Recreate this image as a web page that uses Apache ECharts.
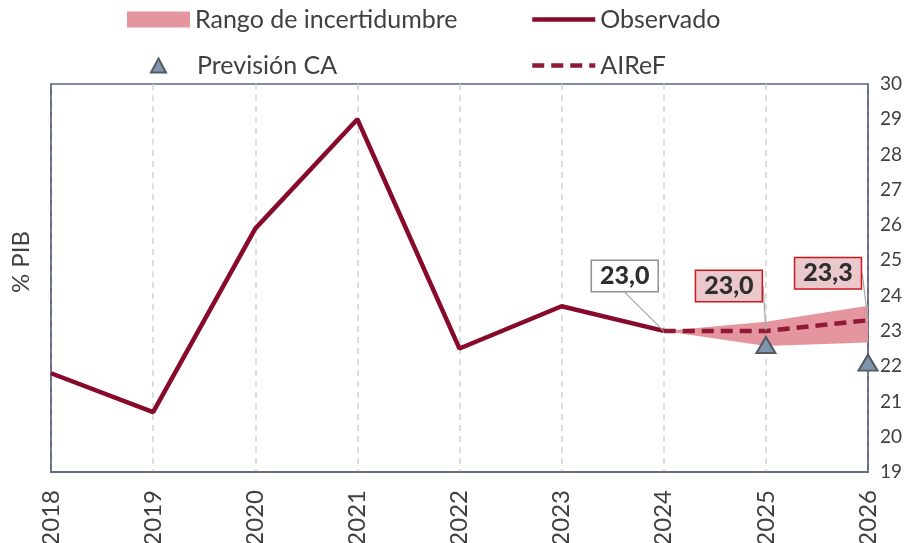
<!DOCTYPE html>
<html><head><meta charset="utf-8">
<script src="https://cdn.jsdelivr.net/npm/echarts@6/dist/echarts.min.js"></script>
<style>html,body{margin:0;padding:0;background:#fff}#c{width:916px;height:543px}</style>
</head><body><div id="c"></div>
<script>
const years = ['2018','2019','2020','2021','2022','2023','2024','2025','2026'];
const observado = [21.8, 20.7, 25.9, 29.0, 22.5, 23.7, 23.0, null, null];
const airef = [null, null, null, null, null, null, 23.0, 23.0, 23.3];
const bandLower = [null, null, null, null, null, null, 23.0, 22.57, 22.67];
const bandUpper = [null, null, null, null, null, null, 23.0, 23.26, 23.71];
const previsionCA = [null, null, null, null, null, null, null, 22.6, 22.1];
const yTicks = {min: 19, max: 30, interval: 1};

const bandDiff = bandUpper.map((u, i) => (u == null || bandLower[i] == null) ? null : +(u - bandLower[i]).toFixed(3));
const fmt = v => v.toFixed(1).replace('.', ',');
const labelPoints = [
  {value: [years[6], observado[6]], box: 'grey'},
  {value: [years[7], airef[7]], box: 'red'},
  {value: [years[8], airef[8]], box: 'red'}
];
const offsets = [[-39, -55], [-37, -45], [-40, -47]];
const FONT = 'Lato';
const TXT = '#404040';
const MAROON = '#870a2a';
const PINK = '#e4959e';
const FRAME = '#56657f';

const chart = echarts.init(document.getElementById('c'));
const legendBase = {
  itemWidth: 63, itemHeight: 16, itemGap: 10, padding: 0,
  textStyle: {fontFamily: FONT, fontSize: 25, color: TXT},
  selectedMode: false
};
chart.setOption({
  animation: false,
  textStyle: {fontFamily: FONT},
  grid: {left: 51, right: 48, top: 84, bottom: 71, show: true, borderColor: FRAME, borderWidth: 1.5,
    backgroundColor: 'transparent', containLabel: false, outerBoundsMode: 'none'},
  legend: [
    Object.assign({}, legendBase, {left: 127, top: 7, data: [{name: 'Rango de incertidumbre', icon: 'rect'}]}),
    Object.assign({}, legendBase, {left: 530, top: 7, data: ['Observado'], lineStyle: {width: 4.5}, itemStyle: {opacity: 0}}),
    Object.assign({}, legendBase, {left: 150, top: 53, itemWidth: 15, itemHeight: 14,
      textStyle: {fontFamily: FONT, fontSize: 25, color: TXT, padding: [0, 0, 0, 26]},
      data: [{name: 'Previsión CA', icon: 'triangle'}]}),
    Object.assign({}, legendBase, {left: 530, top: 53, data: ['AIReF'], lineStyle: {width: 4.5}, itemStyle: {opacity: 0}})
  ],
  xAxis: {
    type: 'category', data: years, boundaryGap: false,
    axisLine: {show: true, lineStyle: {color: FRAME, width: 1.5}},
    axisTick: {show: false},
    axisLabel: {rotate: 90, fontSize: 24, color: TXT, fontFamily: FONT, margin: 18},
    splitLine: {show: true, lineStyle: {color: '#d4d4d4', type: [6, 5], width: 1.5}}
  },
  yAxis: [
    {
      type: 'value', position: 'right', min: yTicks.min, max: yTicks.max, interval: yTicks.interval,
      axisLine: {show: true, lineStyle: {color: FRAME, width: 1.5}},
      axisTick: {show: false},
      axisLabel: {fontSize: 19, color: TXT, fontFamily: FONT, margin: 12},
      splitLine: {show: false}
    },
    {
      type: 'value', position: 'left', min: yTicks.min, max: yTicks.max, interval: yTicks.interval,
      name: '% PIB', nameLocation: 'middle', nameGap: 18, nameRotate: 90,
      nameTextStyle: {fontSize: 24, color: TXT, fontFamily: FONT, padding: [0, 0, 0, 32]},
      axisLine: {show: true, lineStyle: {color: FRAME, width: 1.5}}, axisTick: {show: false}, axisLabel: {show: false}, splitLine: {show: false}
    }
  ],
  series: [
    {
      name: 'bandLower', type: 'line', data: bandLower, stack: 'band', symbol: 'none',
      lineStyle: {opacity: 0}, silent: true, z: 1
    },
    {
      name: 'Rango de incertidumbre', type: 'line', data: bandDiff, stack: 'band', symbol: 'none',
      lineStyle: {opacity: 0}, areaStyle: {color: PINK, opacity: 1}, itemStyle: {color: PINK}, z: 1
    },
    {
      name: 'Observado', type: 'line', data: observado, symbol: 'none',
      lineStyle: {color: MAROON, width: 4.5}, itemStyle: {color: MAROON}, z: 3
    },
    {
      name: 'AIReF', type: 'line', data: airef, symbol: 'none',
      lineStyle: {color: '#8e1a35', width: 4.5, type: [12, 7]}, itemStyle: {color: '#8e1a35'}, z: 3
    },
    {
      name: 'Previsión CA', type: 'scatter', data: previsionCA, symbol: 'triangle', symbolSize: [19, 16],
      itemStyle: {color: '#7f95ae', borderColor: '#555a60', borderWidth: 2, opacity: 1}, z: 4
    },
    {
      name: 'labels', type: 'scatter', symbolSize: 1, itemStyle: {color: 'transparent'}, z: 10, silent: true,
      data: labelPoints.map(p => ({
        value: p.value,
        label: {
          show: true, position: 'inside',
          formatter: q => fmt(q.value[1]),
          fontFamily: FONT, fontSize: 25, fontWeight: 900, color: '#2e2e2e', opacity: 1,
          textBorderWidth: 0, textBorderColor: 'transparent',
          backgroundColor: p.box === 'red' ? '#ebc8cb' : '#ffffff',
          borderColor: p.box === 'red' ? '#d0161f' : '#909090',
          borderWidth: 1.5, padding: [3, 8, 2, 8]
        }
      })),
      labelLine: {show: true, lineStyle: {color: '#a8a8a8', width: 1.2}},
      labelLayout: params => ({dx: offsets[params.dataIndex][0], dy: offsets[params.dataIndex][1]})
    }
  ]
});
</script></body></html>
